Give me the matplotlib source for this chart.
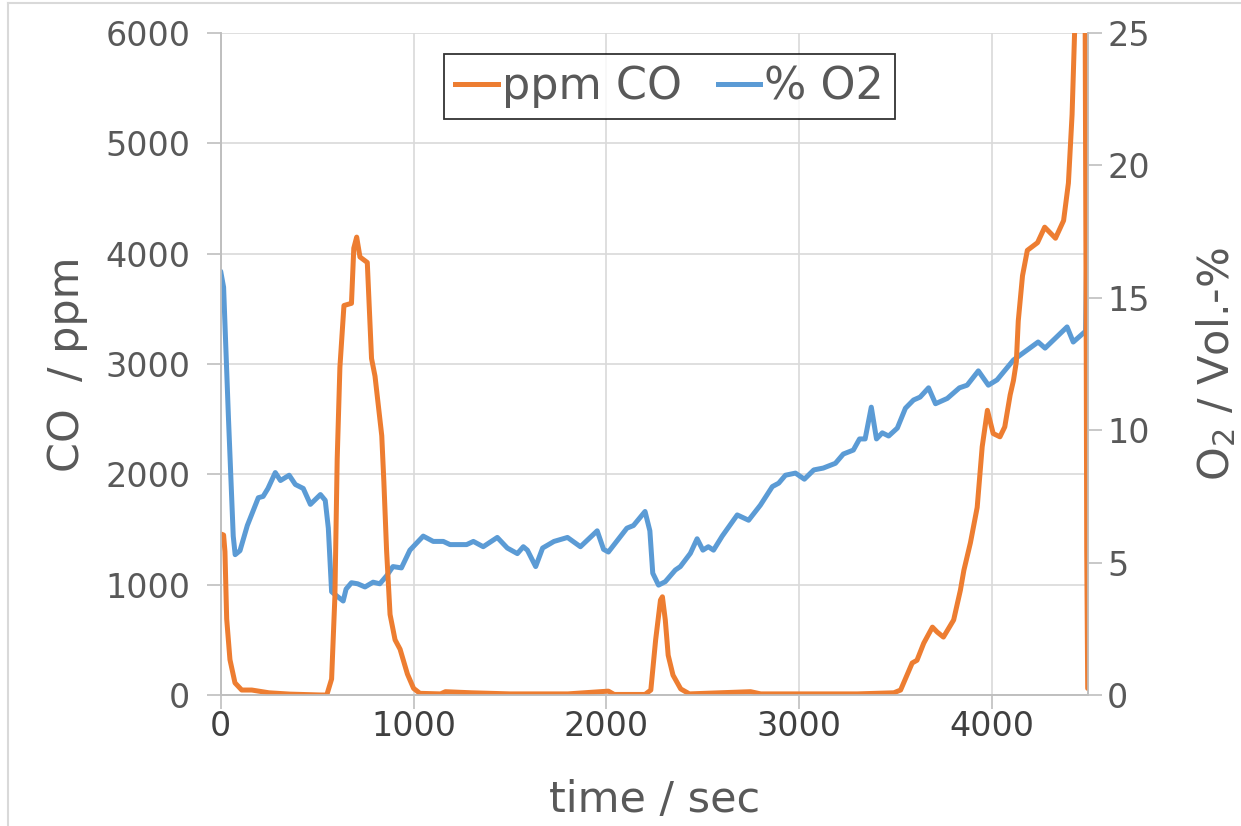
import matplotlib
matplotlib.use('Agg')
import matplotlib.pyplot as plt
from matplotlib.lines import Line2D

# O2 trace (time in s, vol.-%)
t_o2 = [0, 15, 40, 65, 75, 100, 138, 195, 220, 245,
        283, 310, 355, 387, 428, 465, 517, 542, 558, 575,
        600, 635, 650, 678, 710, 748, 790, 825, 860, 893,
        937, 981, 1050, 1102, 1154, 1189, 1275, 1310, 1361, 1434,
        1486, 1538, 1569, 1590, 1633, 1669, 1728, 1798, 1865, 1952,
        1985, 2010, 2106, 2140, 2200, 2225, 2240, 2270, 2305, 2357,
        2383, 2435, 2470, 2500, 2528, 2555, 2600, 2678, 2737, 2798,
        2860, 2893, 2928, 2980, 3026, 3075, 3124, 3187, 3228, 3280,
        3312, 3341, 3373, 3400, 3430, 3463, 3508, 3550, 3592, 3626,
        3670, 3706, 3767, 3830, 3870, 3928, 3980, 4025, 4110, 4238,
        4274, 4388, 4420, 4484, 4490, 4495]
o2 = [16.0, 15.4, 10.5, 6.0, 5.3, 5.45, 6.4, 7.45, 7.5, 7.8,
      8.4, 8.1, 8.3, 7.95, 7.8, 7.2, 7.57, 7.35, 6.3, 3.9,
      3.75, 3.55, 4.0, 4.24, 4.2, 4.08, 4.26, 4.2, 4.5, 4.85,
      4.8, 5.47, 6.0, 5.8, 5.8, 5.68, 5.68, 5.8, 5.6, 5.95,
      5.55, 5.34, 5.6, 5.47, 4.85, 5.55, 5.8, 5.95, 5.6, 6.2,
      5.5, 5.4, 6.3, 6.4, 6.93, 6.2, 4.6, 4.15, 4.28, 4.72,
      4.85, 5.35, 5.9, 5.47, 5.6, 5.47, 6.0, 6.8, 6.6, 7.17,
      7.87, 8.0, 8.3, 8.38, 8.15, 8.5, 8.57, 8.75, 9.1, 9.25,
      9.67, 9.67, 10.87, 9.67, 9.9, 9.78, 10.08, 10.83, 11.14, 11.25,
      11.6, 11.0, 11.2, 11.6, 11.7, 12.24, 11.7, 11.9, 12.65, 13.33,
      13.1, 13.9, 13.33, 13.74, 16.7, 20.5]

# CO trace (time in s, ppm)
t_co = [0, 15, 22, 31, 48, 74, 109, 161, 250, 360,
        520, 550, 575, 592, 604, 618, 639, 678, 690, 705,
        722, 760, 782, 800, 835, 846, 860, 878, 904, 930,
        968, 1000, 1033, 1140, 1165, 1300, 1500, 1800, 2010, 2040,
        2200, 2230, 2255, 2280, 2290, 2305, 2320, 2345, 2385, 2430,
        2747, 2800, 3300, 3490, 3525, 3585, 3610, 3645, 3690, 3715,
        3747, 3800, 3835, 3853, 3887, 3922, 3948, 3975, 4005, 4040,
        4065, 4093, 4110, 4125, 4135, 4157, 4182, 4235, 4272, 4328,
        4370, 4395, 4414, 4427, 4445, 4470, 4482, 4487, 4490, 4495]
co = [1460, 1450, 1300, 690, 320, 110, 45, 45, 20, 8,
      0, 0, 145, 890, 2140, 2970, 3530, 3550, 4050, 4150,
      3970, 3920, 3050, 2890, 2350, 1930, 1310, 730, 500, 415,
      190, 60, 15, 10, 30, 20, 10, 10, 35, 5,
      5, 45, 500, 860, 890, 680, 360, 180, 55, 10,
      30, 10, 10, 20, 45, 290, 315, 470, 615, 570,
      525, 680, 950, 1130, 1380, 1700, 2250, 2580, 2370, 2340,
      2430, 2720, 2850, 3020, 3390, 3800, 4030, 4100, 4240, 4140,
      4300, 4640, 5260, 6000, 7500, 7500, 6000, 3390, 1310, 60]

co_ticks = [0, 1000, 2000, 3000, 4000, 5000, 6000]
o2_ticks = [0, 5, 10, 15, 20, 25]
t_ticks = [0, 1000, 2000, 3000, 4000]

orange = '#ED7D31'
blue = '#5B9BD5'
txt = '#595959'
grid = '#D9D9D9'

fig = plt.figure(figsize=(12.41, 8.26), dpi=100)
ax = fig.add_axes([220.7/1241, 1-695/826, (1087.7-220.7)/1241, 662/826])
ax2 = ax.twinx()

ax2.plot(t_o2, o2, color=blue, lw=3.6, solid_joinstyle='round',
         solid_capstyle='round', label='% O2')
# CO goes on the top axes so it is drawn over the O2 line, using the left scale
ax2.plot(t_co, co, color=orange, lw=3.6, solid_joinstyle='round',
         solid_capstyle='round', transform=ax.transData, label='ppm CO')

ax.set_xlim(0, 4495)
ax.set_ylim(0, 6000)
ax2.set_ylim(0, 25)
ax.set_xticks(t_ticks)
ax.set_yticks(co_ticks)
ax2.set_yticks(o2_ticks)

ax.grid(True, color=grid, lw=1.2)
for a in (ax, ax2):
    a.spines['top'].set_visible(False)
    for s in ('left', 'right', 'bottom'):
        a.spines[s].set_color('#BFBFBF')
        a.spines[s].set_linewidth(1.2)
ax.tick_params(axis='y', colors='#BFBFBF', width=1.2, length=10,
               labelsize=24, labelcolor=txt, pad=12)
ax.tick_params(axis='x', colors='#BFBFBF', width=1.2, length=10,
               labelsize=24, labelcolor='#404040', pad=1)
ax2.tick_params(axis='y', colors='#BFBFBF', width=1.2, length=10,
                labelsize=24, labelcolor=txt, pad=4)

ax.set_xlabel('time / sec', fontsize=31, color=txt, labelpad=26)
ax.set_ylabel('CO  / ppm', fontsize=31, color=txt, labelpad=12)
ax2.set_ylabel('O$_2$ / Vol.-%', fontsize=31, color=txt, labelpad=32)

handles = [Line2D([], [], color=orange, lw=3.6), Line2D([], [], color=blue, lw=3.6)]
leg = ax2.legend(handles, ['ppm CO', '% O2'], loc='center',
                 bbox_to_anchor=(0.518, 0.919), ncol=2, fontsize=32,
                 frameon=True, fancybox=False, handlelength=0.95,
                 handletextpad=0.1, columnspacing=0.8, borderpad=0.25,
                 borderaxespad=0)
leg.get_frame().set_edgecolor('black')
leg.get_frame().set_linewidth(1.3)
for t in leg.get_texts():
    t.set_color(txt)

# thin outer frame of the chart area
fig.add_artist(Line2D([8/1241, 8/1241], [0, 1-3/826], color='#D9D9D9', lw=1.5,
                      transform=fig.transFigure))
fig.add_artist(Line2D([8/1241, 1], [1-3/826, 1-3/826], color='#D9D9D9', lw=1.5,
                      transform=fig.transFigure))

fig.savefig('out.png', dpi=100)
plt.close()
